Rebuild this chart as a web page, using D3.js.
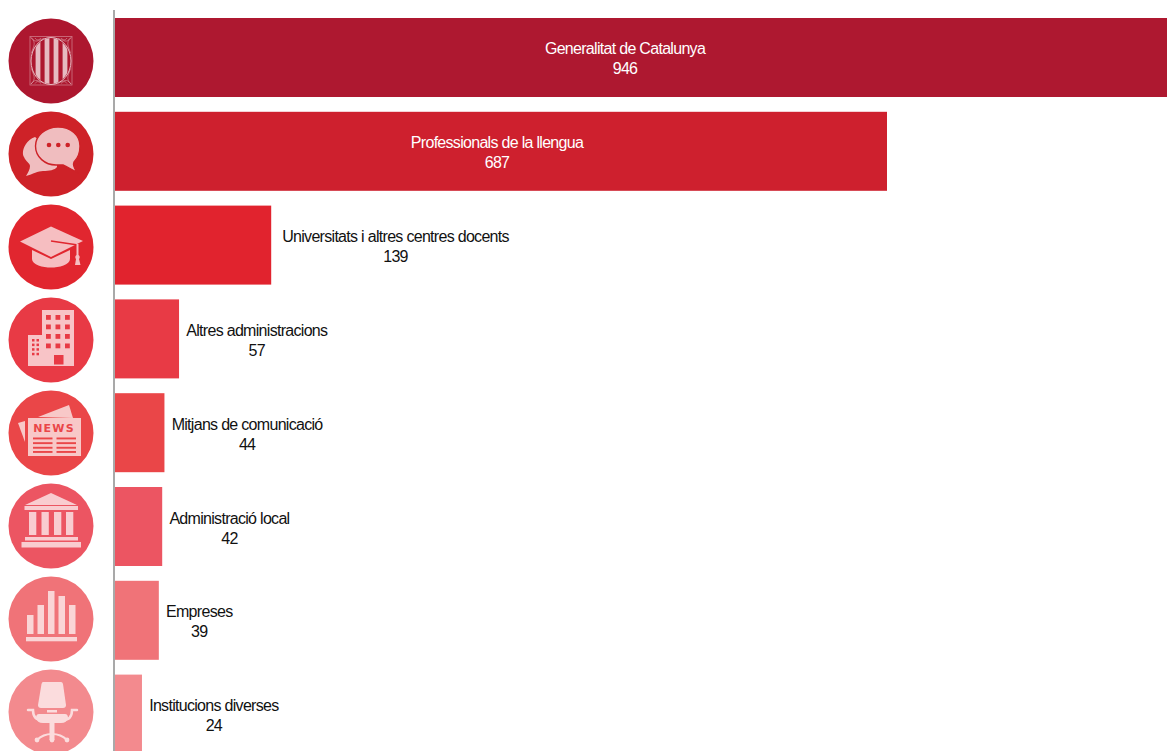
<!DOCTYPE html>
<html lang="ca">
<head>
<meta charset="utf-8">
<title>Generalitat de Catalunya</title>
<script src="https://cdn.jsdelivr.net/npm/d3@7/dist/d3.min.js"></script>
<style>
html, body { margin: 0; padding: 0; background: #fff; overflow: hidden; }
svg { display: block; }
text { font-family: "Liberation Sans", Arial, sans-serif; font-size: 16px; fill: #111; letter-spacing: -0.7px; }
</style>
</head>
<body>
<script>
// Entities and their counts, largest first
const categories = [
  "Generalitat de Catalunya",
  "Professionals de la llengua",
  "Universitats i altres centres docents",
  "Altres administracions",
  "Mitjans de comunicació",
  "Administració local",
  "Empreses",
  "Institucions diverses"
];
const counts = [946, 687, 139, 57, 44, 42, 39, 24];
const barColors = ["#ae1830", "#ce202e", "#e1232e", "#e83a45", "#ea4648", "#ec5562", "#f07378", "#f38a8e"];
const circleFill = ["#ad172f", "#ce2228", "#e1262f", "#e83a45", "#ea4648", "#ec5562", "#f07378", "#f38a8e"];
const iconNames = ["senyera", "speech", "cap", "building", "news", "bank", "bars", "chair"];

const W = 1167, H = 751;
const svg = d3.select("body").append("svg").attr("width", W).attr("height", H);

const x = d3.scaleLinear().domain([0, 687]).range([115, 887]);
const y = d3.scaleBand().domain(categories).range([18, 753.6]).paddingInner(0.1578).paddingOuter(0);
const iconY = d3.scalePoint().domain(iconNames).range([61, 712]);

// Bars run off the right edge when they exceed the plot width
svg.append("g").selectAll("rect").data(categories).join("rect")
  .attr("x", x(0))
  .attr("y", d => y(d))
  .attr("width", (d, i) => x(counts[i]) - x(0))
  .attr("height", y.bandwidth())
  .attr("fill", (d, i) => barColors[i]);

// Vertical baseline
svg.append("line")
  .attr("x1", 114).attr("x2", 114).attr("y1", 10).attr("y2", H)
  .attr("stroke", "#a9a9a9").attr("stroke-width", 2);

// Two-line labels: centred inside the two long bars, beside the short ones
const insideCentre = { 0: 625, 1: 497 };
const outsideGap = i => (i === 2 ? 11 : 7.2);
const labels = svg.append("g").selectAll("g").data(categories).join("g");
labels.each(function (d, i) {
  const g = d3.select(this);
  const cy = y(d) + y.bandwidth() / 2;
  const inside = i in insideCentre;
  const name = g.append("text").attr("text-anchor", "middle").attr("y", cy - 3).text(d);
  const val = g.append("text").attr("text-anchor", "middle").attr("y", cy + 17).text(counts[i]);
  if (inside) {
    name.style("fill", "#fff");
    val.style("fill", "#fff");
  }
  const textW = name.node().getComputedTextLength();
  const cx = inside ? insideCentre[i] : x(counts[i]) + outsideGap(i) + textW / 2;
  name.attr("x", cx);
  val.attr("x", cx);
});

// Round pictograms in the left column
const iconInk = "#fff";
const icons = {
  senyera(g) {
    svg.append("defs").append("clipPath").attr("id", "oval-clip")
      .append("ellipse").attr("rx", 19).attr("ry", 23);
    const s = g.append("g").attr("clip-path", "url(#oval-clip)");
    [-13, -4, 5, 14].forEach(px => s.append("rect").attr("x", px - 2.4).attr("y", -24).attr("width", 4.8).attr("height", 48));
    g.append("ellipse").attr("rx", 20).attr("ry", 23.5).attr("fill", "none").attr("stroke", iconInk).attr("stroke-width", 1);
    g.append("rect").attr("x", -21).attr("y", -24.5).attr("width", 42).attr("height", 48.5)
      .attr("fill", "none").attr("stroke", iconInk).attr("stroke-width", 0.8).attr("opacity", 0.6);
    g.append("path").attr("fill", "none").attr("stroke", iconInk).attr("stroke-width", 0.7).attr("opacity", 0.7)
      .attr("d", "M-20,-23.5 C-15,-17 -13,-21 -7,-22.5 M-20,-23.5 C-14,-18 -18,-14 -19.5,-8 M-16,-23 C-14,-20 -12,-21 -10,-23 M20,-23.5 C15,-17 13,-21 7,-22.5 M20,-23.5 C14,-18 18,-14 19.5,-8 M16,-23 C14,-20 12,-21 10,-23 M-20,23 C-15,16.5 -13,20.5 -7,22 M-20,23 C-14,17.5 -18,13.5 -19.5,7.5 M-16,22.5 C-14,19.5 -12,20.5 -10,22.5 M20,23 C15,16.5 13,20.5 7,22 M20,23 C14,17.5 18,13.5 19.5,7.5 M16,22.5 C14,19.5 12,20.5 10,22.5");
  },
  speech(g, bg) {
    g.append("path").attr("d", "M-16,-17 C-27,-13 -30,-1 -27,3 C-25,8 -21,9 -21,12 C-21,15 -23,19 -25,22 C-18,20 -13,17 -8,17 C-2,17 4,16 6,13 L6,0 Z");
    g.append("path").attr("stroke", bg).attr("stroke-width", 1.4)
      .attr("d", "M7,-27 C-6,-27 -15.5,-18 -15.5,-8 C-15.5,3 -6,11 5,11 L12,11 C17,13 21,16 26,18 C23,14 22,10 23,8 C27,4 29,-2 29,-8 C29,-19 20,-27 7,-27 Z");
    [-2, 7.3, 16.7].forEach(cx => g.append("circle").attr("cx", cx).attr("cy", -9).attr("r", 2.3).style("fill", bg));
  },
  cap(g, bg) {
    g.append("path").attr("d", "M-19,3 L0,12 L19,3 L19,12 C19,18 8,20.5 0,20.5 C-8,20.5 -19,18 -19,12 Z");
    g.append("path").attr("d", "M0,-20.5 L32,-6 L0,10 L-31,-5.5 Z");
    g.append("line").attr("x1", 0).attr("y1", -6).attr("x2", 27).attr("y2", -2).attr("stroke", bg).attr("stroke-width", 1.3);
    g.append("path").attr("d", "M25.5,-3 L27.5,-3 L27.5,8 C29,9 29,11 28,12 L29.5,18 L24,18 L25,12 C24,11 24,9 25.5,8 Z");
  },
  building(g, bg) {
    g.append("path").attr("d", "M-9,-30 L23,-30 L23,26 L-23,26 L-23,-5 L-9,-5 Z");
    d3.range(4).forEach(r => d3.range(3).forEach(c => g.append("rect").attr("x", -5 + c * 9.5).attr("y", -25 + r * 9.5).attr("width", 4.8).attr("height", 4.8).style("fill", bg)));
    d3.range(4).forEach(r => d3.range(2).forEach(c => g.append("rect").attr("x", -19 + c * 4.5).attr("y", -1 + r * 4.6).attr("width", 2.5).attr("height", 2.5).style("fill", bg)));
    g.append("rect").attr("x", 3).attr("y", 15).attr("width", 9.5).attr("height", 9.5).style("fill", bg);
  },
  news(g, bg) {
    g.append("path").attr("d", "M-13,-16 L18,-28 L22,-15 Z");
    g.append("path").attr("d", "M-33,-10 L-26,-12 L-26,9 Z");
    g.append("rect").attr("x", -23).attr("y", -15).attr("width", 53).attr("height", 38);
    g.append("text").attr("x", 3).attr("y", -1.3).attr("text-anchor", "middle")
      .style("font-family", "'DejaVu Sans', sans-serif").style("font-size", "11px").style("font-weight", "bold")
      .style("letter-spacing", "1.2px").style("fill", bg).text("NEWS");
    [4.5, 9.2, 13.8, 18].forEach(o => {
      g.append("rect").attr("x", -18).attr("y", o).attr("width", 19.5).attr("height", 1.9).style("fill", bg);
      g.append("rect").attr("x", 5.5).attr("y", o).attr("width", 19.5).attr("height", 1.9).style("fill", bg);
    });
  },
  bank(g) {
    g.append("path").attr("d", "M0,-33 L26,-21 L-26,-21 Z");
    g.append("rect").attr("x", -26.5).attr("y", -20).attr("width", 53.5).attr("height", 4);
    [-22, -9.5, 3, 15].forEach(px => g.append("rect").attr("x", px).attr("y", -14).attr("width", 7.3).attr("height", 23));
    g.append("rect").attr("x", -26).attr("y", 11).attr("width", 53).attr("height", 3.5);
    g.append("rect").attr("x", -29.5).attr("y", 16).attr("width", 59.5).attr("height", 5.5);
  },
  bars(g) {
    [[-24, 6.5, 19], [-13.5, 6.5, 29], [-3, 6.5, 43], [7.5, 6.5, 38], [18, 6.5, 29]].forEach(([bx, bw, bh]) =>
      g.append("rect").attr("x", bx).attr("y", 15 - bh).attr("width", bw).attr("height", bh));
    g.append("rect").attr("x", -25).attr("y", 18).attr("width", 51).attr("height", 4.3);
  },
  chair(g) {
    g.append("path").attr("d", "M-8,-30 L10,-30 Q11.5,-30 12,-28 L15,-7 Q15,-4 12,-4 L-10,-4 Q-13,-4 -13,-7 L-9.5,-28 Q-9,-30 -8,-30 Z");
    g.append("rect").attr("x", -4).attr("y", -2).attr("width", 10).attr("height", 2.5);
    g.append("path").attr("d", "M-12,2 L14,2 Q17,2 17,6 Q16,11 10,11 L-8,11 Q-14,11 -15,6 Q-15,2 -12,2 Z");
    g.append("path").attr("fill", "none").attr("stroke", iconInk).attr("stroke-width", 2.5).attr("stroke-linecap", "round")
      .attr("d", "M-23,-2 L-18,-2 Q-18,8 -9,8 M26,-2 L21,-2 Q21,8 12,8");
    g.append("rect").attr("x", -1.5).attr("y", 11).attr("width", 5).attr("height", 17);
    g.append("path").attr("fill", "none").attr("stroke", iconInk).attr("stroke-width", 2.2).attr("d", "M-14,28 Q-8,22 1,22 Q10,22 16,28");
    [-14, 1, 16].forEach(cx => g.append("circle").attr("cx", cx).attr("cy", 28).attr("r", 2.4));
  }
};

const column = svg.append("g").selectAll("g").data(iconNames).join("g")
  .attr("transform", d => `translate(51,${iconY(d)})`);
column.append("circle").attr("r", 42.5).attr("fill", (d, i) => circleFill[i]);
column.append("g").attr("fill", iconInk).attr("opacity", 0.7)
  .each(function (d, i) { icons[d](d3.select(this), circleFill[i]); });
</script>
</body>
</html>
